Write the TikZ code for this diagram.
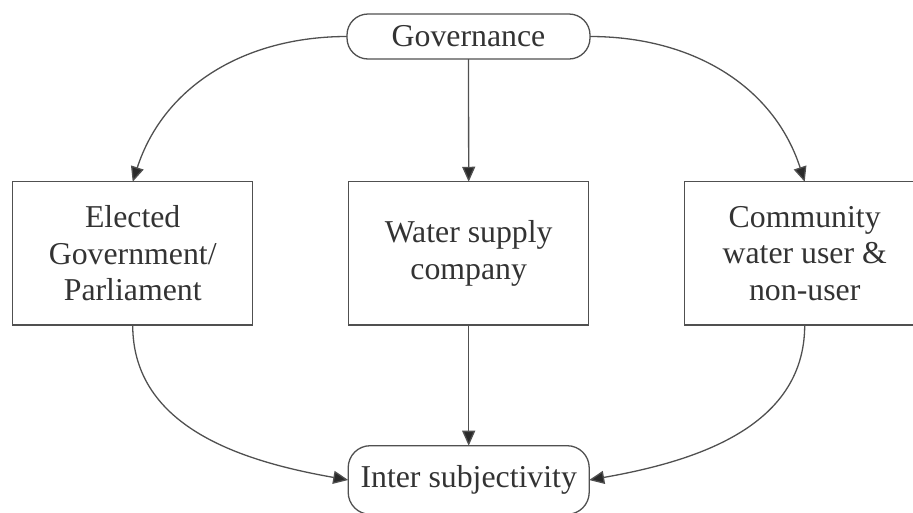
\documentclass[tikz,border=0pt]{standalone}
\usepackage{fontspec}
\setmainfont{Liberation Serif}
\usetikzlibrary{arrows.meta}
\definecolor{linegray}{HTML}{505050}
\definecolor{textgray}{HTML}{333333}
\definecolor{tipgray}{HTML}{2A2A2A}
\begin{document}
\begin{tikzpicture}[x=1pt,y=1pt,
  every node/.style={inner sep=0pt,outer sep=0pt,align=center,text=textgray,
    font=\fontsize{31.8}{36.7}\selectfont},
  boxnode/.style={draw=linegray,line width=1.3pt,minimum width=240pt,minimum height=143.3pt},
  pill/.style={draw=linegray,line width=1.3pt,rounded corners=21pt},
  arr/.style={draw=linegray,line width=1.3pt,-{Triangle[length=15pt,width=13pt,fill=tipgray]}}]
\useasboundingbox (0,0) rectangle (913,-512);
\node[pill,minimum width=243pt,minimum height=45pt] (gov) at (468.5,-36.5) {Governance};
\node[boxnode] (left) at (132.7,-253.4) {Elected\\Government/\\Parliament};
\node[boxnode] (mid) at (468.7,-253.4) {Water supply\\company};
\node[boxnode] (right) at (804.7,-253.4) {Community\\water user \&\\non-user};
\node[pill,rounded corners=22pt,minimum width=241pt,minimum height=68.6pt] (inter) at (468.7,-480) {Inter subjectivity};
\draw[arr] (gov.west) to[out=180,in=72] (left.north);
\draw[arr] (gov.east) to[out=0,in=108] (right.north);
\draw[arr] (gov.south) -- (mid.north);
\draw[arr] (mid.south) -- (inter.north);
\draw[arr] (left.south) to[out=-90,in=170] (inter.west);
\draw[arr] (right.south) to[out=-90,in=10] (inter.east);
\end{tikzpicture}
\end{document}
